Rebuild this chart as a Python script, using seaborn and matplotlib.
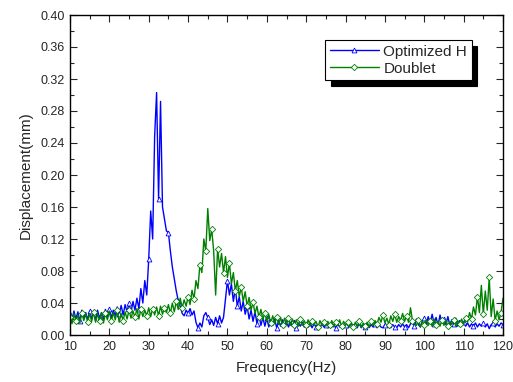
import numpy as np
import pandas as pd
import matplotlib
matplotlib.use("Agg")
import matplotlib.pyplot as plt
from matplotlib.ticker import MultipleLocator, FormatStrFormatter
import seaborn as sns

# frequency axis, 0.5 Hz steps from 10 to 120 Hz
freq = np.arange(0, 221) * 0.5 + 10

optimized_h = [
    0.026, 0.018, 0.030, 0.020, 0.029, 0.017, 0.031, 0.021, 0.028, 0.019,
    0.030, 0.020, 0.029, 0.018, 0.031, 0.021, 0.028, 0.019, 0.032, 0.022,
    0.033, 0.021, 0.031, 0.024, 0.035, 0.026, 0.037, 0.025, 0.038, 0.029,
    0.040, 0.028, 0.042, 0.031, 0.046, 0.033, 0.058, 0.040, 0.068, 0.050,
    0.095, 0.155, 0.120, 0.248, 0.303, 0.170, 0.292, 0.160, 0.145, 0.130,
    0.128, 0.105, 0.085, 0.070, 0.055, 0.043, 0.036, 0.027, 0.024, 0.031,
    0.027, 0.033, 0.025, 0.030, 0.016, 0.009, 0.015, 0.010, 0.024, 0.028,
    0.022, 0.013, 0.019, 0.012, 0.022, 0.014, 0.024, 0.015, 0.022, 0.045,
    0.068, 0.050, 0.064, 0.042, 0.058, 0.036, 0.048, 0.030, 0.042, 0.026,
    0.036, 0.020, 0.031, 0.017, 0.029, 0.014, 0.025, 0.012, 0.022, 0.011,
    0.021, 0.010, 0.019, 0.012, 0.020, 0.009, 0.018, 0.011, 0.019, 0.010,
    0.017, 0.010, 0.016, 0.011, 0.018, 0.009, 0.015, 0.011, 0.016, 0.010,
    0.014, 0.010, 0.015, 0.009, 0.014, 0.010, 0.013, 0.009, 0.014, 0.010,
    0.013, 0.009, 0.014, 0.010, 0.013, 0.009, 0.014, 0.010, 0.013, 0.009,
    0.013, 0.009, 0.012, 0.014, 0.009, 0.013, 0.010, 0.014, 0.009, 0.013,
    0.010, 0.014, 0.009, 0.013, 0.010, 0.014, 0.009, 0.013, 0.010, 0.009,
    0.013, 0.010, 0.014, 0.009, 0.013, 0.010, 0.009, 0.013, 0.010, 0.014,
    0.010, 0.013, 0.009, 0.014, 0.018, 0.011, 0.020, 0.013, 0.010, 0.017,
    0.021, 0.013, 0.023, 0.015, 0.026, 0.014, 0.022, 0.012, 0.025, 0.015,
    0.020, 0.013, 0.023, 0.012, 0.019, 0.014, 0.021, 0.011, 0.018, 0.013,
    0.016, 0.011, 0.015, 0.010, 0.014, 0.011, 0.015, 0.010, 0.014, 0.011,
    0.015, 0.010, 0.014, 0.008, 0.013, 0.015, 0.010, 0.014, 0.011, 0.015,
    0.013,
]

doublet = [
    0.022, 0.014, 0.027, 0.017, 0.025, 0.015, 0.028, 0.018, 0.026, 0.016,
    0.027, 0.017, 0.029, 0.016, 0.026, 0.018, 0.028, 0.015, 0.027, 0.019,
    0.030, 0.017, 0.028, 0.019, 0.031, 0.016, 0.027, 0.018, 0.029, 0.020,
    0.031, 0.021, 0.030, 0.022, 0.033, 0.020, 0.032, 0.023, 0.031, 0.024,
    0.034, 0.023, 0.033, 0.025, 0.035, 0.024, 0.036, 0.026, 0.034, 0.028,
    0.038, 0.027, 0.040, 0.029, 0.042, 0.032, 0.046, 0.034, 0.044, 0.036,
    0.048, 0.038, 0.056, 0.045, 0.068, 0.058, 0.088, 0.078, 0.120, 0.105,
    0.158, 0.118, 0.132, 0.105, 0.050, 0.108, 0.085, 0.102, 0.078, 0.098,
    0.072, 0.090, 0.064, 0.078, 0.055, 0.068, 0.048, 0.060, 0.042, 0.054,
    0.036, 0.047, 0.031, 0.041, 0.027, 0.036, 0.022, 0.032, 0.019, 0.028,
    0.017, 0.026, 0.015, 0.024, 0.014, 0.023, 0.013, 0.022, 0.012, 0.021,
    0.013, 0.021, 0.012, 0.020, 0.013, 0.019, 0.011, 0.020, 0.012, 0.018,
    0.012, 0.019, 0.011, 0.018, 0.013, 0.017, 0.010, 0.018, 0.012, 0.016,
    0.011, 0.017, 0.012, 0.018, 0.010, 0.016, 0.012, 0.019, 0.011, 0.017,
    0.012, 0.016, 0.010, 0.015, 0.010, 0.016, 0.011, 0.017, 0.010, 0.015,
    0.011, 0.016, 0.010, 0.017, 0.012, 0.018, 0.014, 0.022, 0.016, 0.025,
    0.015, 0.021, 0.013, 0.024, 0.017, 0.026, 0.016, 0.023, 0.018, 0.027,
    0.017, 0.024, 0.016, 0.034, 0.018, 0.014, 0.012, 0.019, 0.010, 0.017,
    0.013, 0.019, 0.012, 0.018, 0.011, 0.020, 0.012, 0.017, 0.011, 0.019,
    0.012, 0.018, 0.011, 0.017, 0.013, 0.019, 0.011, 0.018, 0.014, 0.020,
    0.013, 0.021, 0.016, 0.028, 0.020, 0.035, 0.025, 0.048, 0.028, 0.062,
    0.026, 0.055, 0.031, 0.072, 0.023, 0.045, 0.018, 0.030, 0.019, 0.028,
    0.046,
]

df = pd.DataFrame({"freq": freq, "Optimized H": optimized_h, "Doublet": doublet})

sns.set_style("ticks")
plt.rcParams["font.family"] = ["Liberation Sans", "DejaVu Sans"]

fig = plt.figure(figsize=(5.13, 3.82), dpi=100)
ax = fig.add_axes([70 / 513, 1 - 335 / 382, 433 / 513, 320 / 382])

sns.lineplot(x="freq", y="Optimized H", data=df, ax=ax, color="#0000ff", lw=1.0,
             marker="^", markevery=5, ms=3.5, mfc="white", mec="#0000ff", mew=0.6,
             label="Optimized H", estimator=None, sort=False)
sns.lineplot(x="freq", y="Doublet", data=df, ax=ax, color="#008000", lw=1.0,
             marker="D", markevery=3, ms=3.2, mfc="white", mec="#008000", mew=0.6,
             label="Doublet", estimator=None, sort=False)

ax.set_xlim(10, 120)
ax.set_ylim(0, 0.40)
ax.xaxis.set_major_locator(MultipleLocator(10))
ax.xaxis.set_minor_locator(MultipleLocator(5))
ax.yaxis.set_major_locator(MultipleLocator(0.04))
ax.yaxis.set_minor_locator(MultipleLocator(0.02))
ax.yaxis.set_major_formatter(FormatStrFormatter("%.2f"))
ax.tick_params(which="both", direction="in", top=True, right=True, labelsize=9, width=0.8, pad=4)
ax.tick_params(which="major", length=5)
ax.tick_params(which="minor", length=3)
for s in ax.spines.values():
    s.set_linewidth(1.0)
    s.set_color("black")

ax.set_xlabel("Frequency(Hz)", fontsize=11, labelpad=6)
ax.set_ylabel("Displacement(mm)", fontsize=11, labelpad=5)

leg = ax.legend(loc="upper right", bbox_to_anchor=(0.928, 0.922), borderaxespad=0,
                fontsize=11, frameon=True, fancybox=False, edgecolor="black",
                handlelength=3.2, handletextpad=0.3, borderpad=0.3, labelspacing=0.2,
                shadow={"ox": 4, "oy": -4, "facecolor": "black", "edgecolor": "black", "alpha": 1})
leg.get_frame().set_linewidth(0.8)
leg.get_frame().set_alpha(1)

fig.savefig("out.png", dpi=100)
